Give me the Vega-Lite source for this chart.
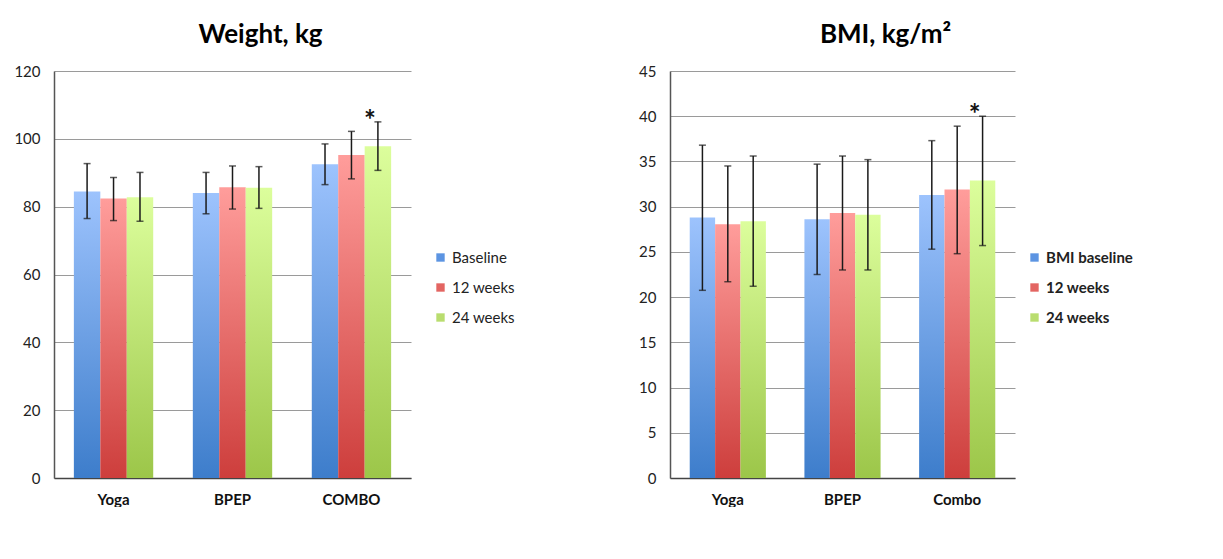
{
  "$schema": "https://vega.github.io/schema/vega-lite/v6.json",
  "padding": {"left": 13, "top": 22, "right": 0, "bottom": 0},
  "background": "white",
  "datasets": {
    "weight": [
      {"group": "Yoga", "series": "Baseline", "value": 84.5, "lo": 76.5, "hi": 92.7, "star": ""},
      {"group": "Yoga", "series": "12 weeks", "value": 82.4, "lo": 75.9, "hi": 88.6, "star": ""},
      {"group": "Yoga", "series": "24 weeks", "value": 82.8, "lo": 75.7, "hi": 90.1, "star": ""},
      {"group": "BPEP", "series": "Baseline", "value": 84.0, "lo": 77.9, "hi": 90.1, "star": ""},
      {"group": "BPEP", "series": "12 weeks", "value": 85.7, "lo": 79.3, "hi": 92.0, "star": ""},
      {"group": "BPEP", "series": "24 weeks", "value": 85.6, "lo": 79.5, "hi": 91.8, "star": ""},
      {"group": "COMBO", "series": "Baseline", "value": 92.5, "lo": 86.5, "hi": 98.5, "star": ""},
      {"group": "COMBO", "series": "12 weeks", "value": 95.2, "lo": 88.2, "hi": 102.2, "star": ""},
      {"group": "COMBO", "series": "24 weeks", "value": 97.8, "lo": 90.7, "hi": 105.0, "star": "*"}
    ],
    "bmi": [
      {"group": "Yoga", "series": "BMI baseline", "value": 28.8, "lo": 20.75, "hi": 36.8, "star": ""},
      {"group": "Yoga", "series": "12 weeks", "value": 28.05, "lo": 21.7, "hi": 34.5, "star": ""},
      {"group": "Yoga", "series": "24 weeks", "value": 28.4, "lo": 21.2, "hi": 35.6, "star": ""},
      {"group": "BPEP", "series": "BMI baseline", "value": 28.6, "lo": 22.5, "hi": 34.7, "star": ""},
      {"group": "BPEP", "series": "12 weeks", "value": 29.3, "lo": 23.0, "hi": 35.6, "star": ""},
      {"group": "BPEP", "series": "24 weeks", "value": 29.1, "lo": 23.0, "hi": 35.2, "star": ""},
      {"group": "Combo", "series": "BMI baseline", "value": 31.3, "lo": 25.3, "hi": 37.3, "star": ""},
      {"group": "Combo", "series": "12 weeks", "value": 31.9, "lo": 24.8, "hi": 38.9, "star": ""},
      {"group": "Combo", "series": "24 weeks", "value": 32.9, "lo": 25.7, "hi": 40.0, "star": "*"}
    ]
  },
  "hconcat": [
    {
      "width": 357,
      "height": 407,
      "data": {"name": "weight"},
      "title": {"text": "Weight, kg", "dx": 28, "offset": 16},
      "encoding": {
        "x": {"field": "group", "type": "nominal", "sort": ["Yoga", "BPEP", "COMBO"],
              "scale": {"paddingInner": 0.333, "paddingOuter": 0.167}, "axis": {"title": null}},
        "xOffset": {"field": "series", "type": "nominal", "sort": ["Baseline", "12 weeks", "24 weeks"],
                    "scale": {"domain": ["Baseline", "12 weeks", "24 weeks"]}}
      },
      "layer": [
        {
          "mark": {"type": "bar"},
          "encoding": {
            "y": {"field": "value", "type": "quantitative", "scale": {"domain": [0, 120]},
                  "axis": {"title": null, "values": [0, 20, 40, 60, 80, 100, 120]}},
            "color": {
              "field": "series", "type": "nominal",
              "scale": {"domain": ["Baseline", "12 weeks", "24 weeks"], "range": ["#5c94e2", "#e36562", "#b9dd6f"]},
              "legend": {"title": null, "orient": "none", "legendX": 379, "legendY": 179, "labelFontWeight": "normal"},
              "condition": [
                {"test": "datum.series === 'Baseline'", "value": {"gradient": "linear", "x1": 0, "y1": 0, "x2": 0, "y2": 1, "stops": [{"offset": 0, "color": "#9dc3fd"}, {"offset": 1, "color": "#3d7dcb"}]}},
                {"test": "datum.series === '12 weeks'", "value": {"gradient": "linear", "x1": 0, "y1": 0, "x2": 0, "y2": 1, "stops": [{"offset": 0, "color": "#ff9d9b"}, {"offset": 1, "color": "#cd3e3c"}]}},
                {"test": "datum.series === '24 weeks'", "value": {"gradient": "linear", "x1": 0, "y1": 0, "x2": 0, "y2": 1, "stops": [{"offset": 0, "color": "#dcfe9c"}, {"offset": 1, "color": "#9cc649"}]}}
              ]
            }
          }
        },
        {
          "mark": {"type": "rule", "color": "#1a1a1a", "strokeWidth": 1.5},
          "encoding": {"y": {"field": "lo", "type": "quantitative"}, "y2": {"field": "hi"}}
        },
        {
          "mark": {"type": "tick", "color": "#1a1a1a", "size": 7, "thickness": 1.5, "orient": "horizontal"},
          "encoding": {"y": {"field": "lo", "type": "quantitative"}}
        },
        {
          "mark": {"type": "tick", "color": "#1a1a1a", "size": 7, "thickness": 1.5, "orient": "horizontal"},
          "encoding": {"y": {"field": "hi", "type": "quantitative"}}
        },
        {
          "transform": [{"filter": "datum.star !== ''"}],
          "mark": {"type": "text", "font": "Lato", "fontSize": 28, "fontWeight": "bold", "color": "#111", "baseline": "alphabetic", "dy": 8, "dx": -8},
          "encoding": {"y": {"field": "hi", "type": "quantitative"}, "text": {"field": "star"}}
        }
      ]
    },
    {
      "width": 345,
      "height": 407,
      "data": {"name": "bmi"},
      "title": {"text": "BMI, kg/m²", "dx": 43, "offset": 16},
      "encoding": {
        "x": {"field": "group", "type": "nominal", "sort": ["Yoga", "BPEP", "Combo"],
              "scale": {"paddingInner": 0.336, "paddingOuter": 0.172}, "axis": {"title": null}},
        "xOffset": {"field": "series", "type": "nominal", "sort": ["BMI baseline", "12 weeks", "24 weeks"],
                    "scale": {"domain": ["BMI baseline", "12 weeks", "24 weeks"]}}
      },
      "layer": [
        {
          "mark": {"type": "bar"},
          "encoding": {
            "y": {"field": "value", "type": "quantitative", "scale": {"domain": [0, 45]},
                  "axis": {"title": null, "values": [0, 5, 10, 15, 20, 25, 30, 35, 40, 45]}},
            "color": {
              "field": "series", "type": "nominal",
              "scale": {"domain": ["BMI baseline", "12 weeks", "24 weeks"], "range": ["#5c94e2", "#e36562", "#b9dd6f"]},
              "legend": {"title": null, "orient": "none", "legendX": 357, "legendY": 179, "labelFontWeight": "bold"},
              "condition": [
                {"test": "datum.series === 'BMI baseline'", "value": {"gradient": "linear", "x1": 0, "y1": 0, "x2": 0, "y2": 1, "stops": [{"offset": 0, "color": "#9dc3fd"}, {"offset": 1, "color": "#3d7dcb"}]}},
                {"test": "datum.series === '12 weeks'", "value": {"gradient": "linear", "x1": 0, "y1": 0, "x2": 0, "y2": 1, "stops": [{"offset": 0, "color": "#ff9d9b"}, {"offset": 1, "color": "#cd3e3c"}]}},
                {"test": "datum.series === '24 weeks'", "value": {"gradient": "linear", "x1": 0, "y1": 0, "x2": 0, "y2": 1, "stops": [{"offset": 0, "color": "#dcfe9c"}, {"offset": 1, "color": "#9cc649"}]}}
              ]
            }
          }
        },
        {
          "mark": {"type": "rule", "color": "#1a1a1a", "strokeWidth": 1.5},
          "encoding": {"y": {"field": "lo", "type": "quantitative"}, "y2": {"field": "hi"}}
        },
        {
          "mark": {"type": "tick", "color": "#1a1a1a", "size": 7, "thickness": 1.5, "orient": "horizontal"},
          "encoding": {"y": {"field": "lo", "type": "quantitative"}}
        },
        {
          "mark": {"type": "tick", "color": "#1a1a1a", "size": 7, "thickness": 1.5, "orient": "horizontal"},
          "encoding": {"y": {"field": "hi", "type": "quantitative"}}
        },
        {
          "transform": [{"filter": "datum.star !== ''"}],
          "mark": {"type": "text", "font": "Lato", "fontSize": 28, "fontWeight": "bold", "color": "#111", "baseline": "alphabetic", "dy": 8, "dx": -8},
          "encoding": {"y": {"field": "hi", "type": "quantitative"}, "text": {"field": "star"}}
        }
      ]
    }
  ],
  "spacing": 123,
  "resolve": {"scale": {"color": "independent", "x": "independent", "y": "independent", "xOffset": "independent"}, "legend": {"color": "independent"}},
  "config": {
    "font": "Lato",
    "view": {"stroke": null},
    "title": {"font": "Lato", "fontSize": 26, "fontWeight": "bold", "color": "#000", "anchor": "middle"},
    "axisY": {"domain": true, "domainColor": "#555", "domainWidth": 1.5, "grid": true, "gridColor": "#9a9a9a", "gridWidth": 1,
              "ticks": false, "labelFont": "Lato", "labelFontSize": 15, "labelColor": "#222", "labelPadding": 14},
    "axisX": {"domain": true, "domainColor": "#444", "domainWidth": 1.5, "grid": false, "ticks": false,
              "labelFont": "Lato", "labelFontSize": 15, "labelFontWeight": "bold", "labelColor": "#111", "labelAngle": 0, "labelPadding": 14},
    "legend": {"symbolType": "square", "symbolSize": 70, "symbolStrokeWidth": 0, "labelFont": "Lato", "labelFontSize": 15,
               "labelColor": "#222", "rowPadding": 14, "labelOffset": 4, "padding": 0}
  }
}
